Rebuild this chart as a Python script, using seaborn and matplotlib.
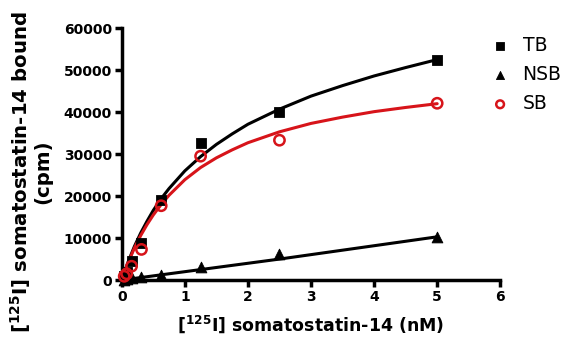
import numpy as np
import pandas as pd
import matplotlib
matplotlib.use('Agg')
import matplotlib.pyplot as plt
import seaborn as sns

# ─── Data ────────────────────────────────────────────────────────────────────
conc = [0.039, 0.078, 0.156, 0.3125, 0.625, 1.25, 2.5, 5.0]   # nM
tb   = [1000, 2000, 4500, 8900, 19000, 32700, 40000, 52500]    # total binding (cpm)
nsb  = [100, 200, 400, 700, 1200, 3000, 6300, 10300]           # non-specific
sb   = [900, 1500, 3300, 7300, 17700, 29500, 33300, 42100]     # specific

# fitted curves
fit_x   = [0, 0.05, 0.1, 0.2, 0.3, 0.4, 0.5, 0.625, 0.75, 1.0, 1.25, 1.5,
           1.75, 2.0, 2.5, 3.0, 3.5, 4.0, 4.5, 5.0]
fit_tb  = [0, 2200, 4300, 8000, 11200, 14000, 16600, 19400, 21800, 26000,
           29400, 32300, 34800, 37100, 40700, 43800, 46300, 48600, 50600, 52500]
fit_sb  = [0, 2100, 4100, 7600, 10600, 13200, 15500, 18000, 20200, 23900,
           26800, 29100, 31000, 32700, 35300, 37300, 38800, 40100, 41100, 42000]
fit_nsb = [0, 5000, 10300]
fit_nsb_x = [0, 2.5, 5.0]

RED = '#d7141a'

pts = pd.DataFrame({'x': conc * 3, 'y': tb + nsb + sb,
                    'grp': ['TB'] * 8 + ['NSB'] * 8 + ['SB'] * 8})

sns.set_style('ticks')
plt.rcParams['font.family'] = ['DejaVu Sans']
plt.rcParams['mathtext.default'] = 'regular'
plt.rcParams['text.color'] = 'black'
plt.rcParams['axes.labelcolor'] = 'black'
plt.rcParams['xtick.color'] = 'black'
plt.rcParams['ytick.color'] = 'black'

fig = plt.figure(figsize=(5.77, 3.60), dpi=100)
ax = fig.add_axes([0.211, 0.222, 0.656, 0.700])

# curves
sns.lineplot(x=fit_x, y=fit_tb, color='black', lw=2.2, ax=ax, zorder=2)
sns.lineplot(x=fit_nsb_x, y=fit_nsb, color='black', lw=2.2, ax=ax, zorder=2)
sns.lineplot(x=fit_x, y=fit_sb, color=RED, lw=2.2, ax=ax, zorder=3)

# points
d = pts[pts.grp == 'TB']
sns.scatterplot(data=d, x='x', y='y', marker='s', s=55, color='black',
                edgecolor='black', label='TB', ax=ax, zorder=4, clip_on=False)
d = pts[pts.grp == 'NSB']
sns.scatterplot(data=d, x='x', y='y', marker='^', s=60, color='black',
                edgecolor='black', label='NSB', ax=ax, zorder=4, clip_on=False)
d = pts[pts.grp == 'SB']
sns.scatterplot(data=d, x='x', y='y', marker='o', s=55, facecolor='none',
                edgecolor=RED, linewidth=1.8, label='SB', ax=ax, zorder=5,
                clip_on=False)

ax.set_xlim(0, 6)
ax.set_ylim(0, 60000)
ax.set_xticks(range(0, 7))
ax.set_yticks(range(0, 60001, 10000))

for side in ['top', 'right']:
    ax.spines[side].set_visible(False)
for side in ['left', 'bottom']:
    ax.spines[side].set_linewidth(2.5)
    ax.spines[side].set_color('black')
ax.tick_params(width=2.5, length=5, direction='out', labelsize=10, pad=2,
               colors='black')
for lab in ax.get_xticklabels() + ax.get_yticklabels():
    lab.set_fontweight('bold')

ax.set_xlabel(r'[$^{125}$I] somatostatin-14 (nM)', fontsize=12.5,
              fontweight='bold', labelpad=7)
ax.set_ylabel('[$^{125}$I] somatostatin-14 bound\n(cpm)', fontsize=14.2,
              fontweight='bold', linespacing=1.0)
ax.yaxis.set_label_coords(-0.184, 0.43)

leg = ax.legend(loc='upper left', bbox_to_anchor=(0.955, 1.0), frameon=False,
                fontsize=13.5, handletextpad=0.7, labelspacing=0.55,
                handlelength=1.0, borderaxespad=0, markerscale=0.75)

fig.savefig('out.png', dpi=100)
